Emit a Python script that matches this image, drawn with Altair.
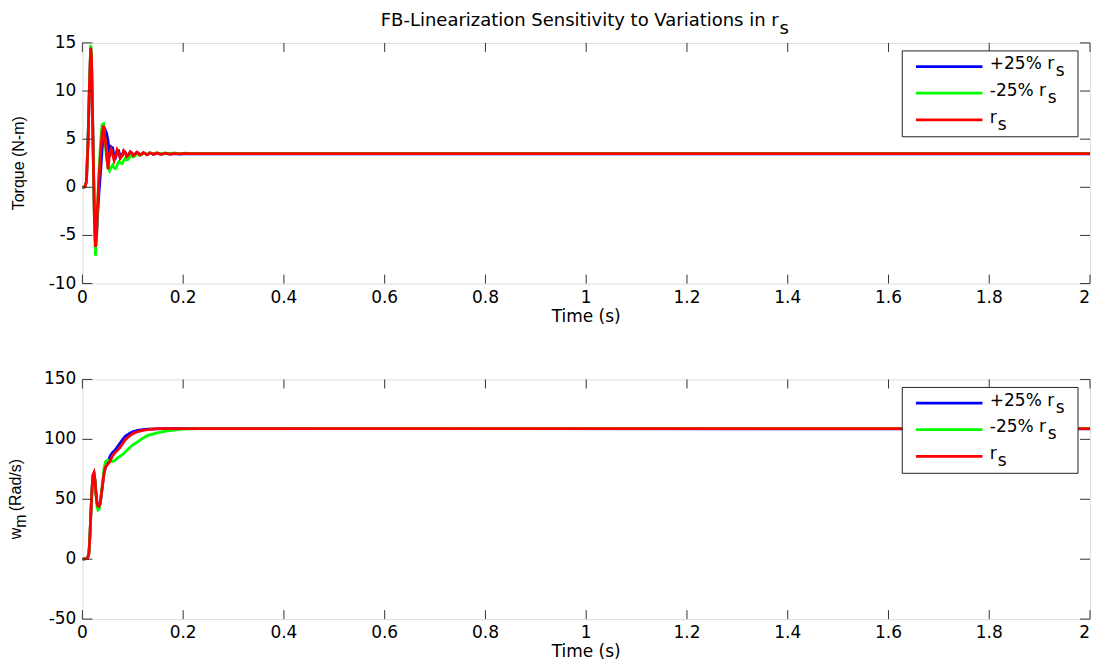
import altair as alt
import pandas as pd

# ---------------- data ----------------
x_ticks = [0, 0.2, 0.4, 0.6, 0.8, 1, 1.2, 1.4, 1.6, 1.8, 2]
x_labels = ["0", "0.2", "0.4", "0.6", "0.8", "1", "1.2", "1.4", "1.6", "1.8", "2"]
torque_ticks = [-10, -5, 0, 5, 10, 15]
torque_labels = ["-10", "-5", "0", "5", "10", "15"]
speed_ticks = [-50, 0, 50, 100, 150]
speed_labels = ["-50", "0", "50", "100", "150"]

t_torque = [0.000, 0.005, 0.008, 0.011, 0.014, 0.0165, 0.018, 0.020, 0.022, 0.024,
            0.026, 0.028, 0.030, 0.033, 0.036, 0.039, 0.042, 0.045, 0.048, 0.051,
            0.054, 0.057, 0.060, 0.063, 0.066, 0.069, 0.072, 0.075, 0.079, 0.082,
            0.085, 0.088, 0.091, 0.095, 0.098, 0.101, 0.104, 0.108, 0.111, 0.114,
            0.118, 0.121, 0.125, 0.128, 0.131, 0.134, 0.138, 0.141, 0.144, 0.147,
            0.151, 0.155, 0.160, 0.165, 0.170, 0.176, 0.182, 0.188, 0.195, 0.202,
            0.210, 0.220, 2.000]
torque_plus = [0.0, 0.05, 0.6, 4.5, 10.5, 14.5, 13.5, 8.0, 2.0, -3.5,
               -6.0, -5.2, -3.0, -0.5, 1.6, 3.8, 5.8, 6.0, 5.6, 4.8,
               3.2, 4.2, 4.1, 3.2, 3.1, 3.8, 3.8, 3.2, 3.3, 3.75,
               3.65, 3.25, 3.35, 3.65, 3.55, 3.35, 3.4, 3.6, 3.55, 3.38,
               3.45, 3.58, 3.5, 3.4, 3.45, 3.56, 3.5, 3.43, 3.47, 3.54,
               3.5, 3.44, 3.47, 3.53, 3.47, 3.45, 3.5, 3.48, 3.46, 3.5,
               3.47, 3.47, 3.47]
torque_minus = [0.0, 0.05, 0.6, 4.6, 10.8, 14.8, 13.8, 8.0, 2.0, -4.0,
                -7.1, -5.5, -2.0, 1.8, 4.5, 6.5, 6.6, 4.8, 3.0, 2.0,
                1.7, 2.1, 2.3, 2.0, 1.95, 2.3, 2.65, 2.55, 2.45, 2.8,
                3.0, 2.85, 2.9, 3.25, 3.3, 3.15, 3.25, 3.45, 3.45, 3.32,
                3.4, 3.55, 3.5, 3.42, 3.47, 3.58, 3.53, 3.46, 3.5, 3.58,
                3.55, 3.48, 3.52, 3.57, 3.51, 3.5, 3.56, 3.53, 3.51, 3.55,
                3.53, 3.53, 3.53]
torque_nom = [0.0, 0.05, 0.6, 4.5, 10.5, 14.5, 13.5, 8.0, 2.0, -3.5,
              -6.2, -5.0, -2.0, 1.0, 3.5, 5.6, 6.4, 5.2, 3.5, 1.9,
              3.6, 4.0, 3.4, 2.8, 3.3, 3.9, 3.6, 3.0, 3.3, 3.8,
              3.6, 3.2, 3.35, 3.7, 3.55, 3.3, 3.4, 3.65, 3.55, 3.35,
              3.45, 3.6, 3.5, 3.38, 3.45, 3.58, 3.52, 3.42, 3.47, 3.56,
              3.52, 3.44, 3.48, 3.55, 3.48, 3.46, 3.53, 3.49, 3.47, 3.52,
              3.49, 3.5, 3.5]

t_speed = [0.000, 0.010, 0.013, 0.015, 0.017, 0.019, 0.021, 0.023, 0.025, 0.027,
           0.029, 0.031, 0.033, 0.035, 0.037, 0.040, 0.043, 0.046, 0.050, 0.055,
           0.060, 0.065, 0.070, 0.075, 0.080, 0.085, 0.090, 0.095, 0.100, 0.110,
           0.120, 0.130, 0.145, 0.160, 0.180, 0.200, 0.230, 2.000]
speed_plus = [0, 0.5, 5, 20, 40, 58, 70, 72, 66, 55,
              47, 44, 44, 46, 52, 62, 72, 77, 80, 86,
              89, 91, 94, 97, 100, 102.5, 104, 105.3, 106.3, 107.5,
              108.2, 108.6, 108.8, 108.9, 109, 109, 109, 108.7]
speed_minus = [0, 0.5, 5, 20, 40, 58, 70, 71.5, 65, 53,
               44, 41, 41.5, 45, 52, 64, 76, 81.5, 82.5, 82,
               81.5, 82.5, 84.5, 86, 87.5, 89.5, 91.5, 93.5, 95.5, 98,
               101, 103.3, 105, 106.5, 107.8, 108.5, 109, 109.2]
speed_nom = [0, 0.5, 5, 20, 40, 58, 70, 72, 66, 55,
             47, 44, 44, 46, 52, 62, 72, 77, 79, 82,
             86.5, 89, 91, 93.5, 96.5, 99.5, 101.5, 103.3, 104.8, 106.5,
             107.5, 108.2, 108.7, 108.9, 109, 109, 109, 109]

series_colors = ["#0000ff", "#00ff00", "#ff0000"]
legend_main = ["+25% r", "-25% r", "r"]

# ---------------- layout / style ----------------
W = 1009
H1 = 241
H2 = 240
FONT = "DejaVu Sans"
VFONT = "Liberation Sans"
TICK_COLOR = "#333333"
LW = 2.8

one = pd.DataFrame({"a": [0]})


def text(txt, x, y, size=17, align="left", angle=0, font=FONT, baseline="alphabetic"):
    return alt.Chart(one).mark_text(
        text=txt, align=align, baseline=baseline, font=font, fontSize=size,
        angle=angle, color="black"
    ).encode(x=alt.value(x), y=alt.value(y))


def panel(t, ys, ydom, yticks, ylabels, H, xlab_dy, xtitle_dy, xtitle_size, anchor_top, anchor_bot):
    xs = alt.X("t:Q", scale=alt.Scale(domain=[0, 2], nice=False, zero=False), axis=None)
    yenc = alt.Y("v:Q", scale=alt.Scale(domain=ydom, nice=False, zero=False), axis=None)
    layers = []
    for vals, col in zip(ys, series_colors):
        df = pd.DataFrame({"t": t, "v": vals})
        layers.append(alt.Chart(df).mark_line(color=col, strokeWidth=LW, clip=True)
                      .encode(x=xs, y=yenc))
    xt = pd.DataFrame({"t": x_ticks, "lab": x_labels})
    yt = pd.DataFrame({"v": yticks, "lab": ylabels})
    layers.append(alt.Chart(xt).mark_rule(color=TICK_COLOR, strokeWidth=1)
                  .encode(x=xs, y=alt.value(H), y2=alt.value(H - 9)))
    layers.append(alt.Chart(xt).mark_rule(color=TICK_COLOR, strokeWidth=1)
                  .encode(x=xs, y=alt.value(0), y2=alt.value(9)))
    layers.append(alt.Chart(yt).mark_rule(color=TICK_COLOR, strokeWidth=1)
                  .encode(y=yenc, x=alt.value(0), x2=alt.value(10)))
    layers.append(alt.Chart(yt).mark_rule(color=TICK_COLOR, strokeWidth=1)
                  .encode(y=yenc, x=alt.value(W - 10), x2=alt.value(W)))
    # tick labels (the last one is kept inside the page's right edge)
    xt_in = xt.iloc[:-1]
    xt_last = xt.iloc[-1:]
    layers.append(alt.Chart(xt_in).mark_text(font=FONT, fontSize=17, align="center",
                                             baseline="alphabetic", color="black")
                  .encode(x=xs, y=alt.value(H + xlab_dy), text="lab:N"))
    layers.append(alt.Chart(xt_last).mark_text(font=FONT, fontSize=17, align="right",
                                               baseline="alphabetic", color="black")
                  .encode(x=xs, y=alt.value(H + xlab_dy), text="lab:N"))
    layers.append(alt.Chart(yt).mark_text(font=FONT, fontSize=17, align="right",
                                          baseline="middle", color="black")
                  .encode(y=yenc, x=alt.value(-6), text="lab:N"))
    # legend box
    layers.append(alt.Chart(one).mark_rect(fill="white", stroke="#222222", strokeWidth=1)
                  .encode(x=alt.value(821), x2=alt.value(997), y=alt.value(8), y2=alt.value(94)))
    rows = [23.7, 50.3, 77.0]
    sub_dx = [66, 58, 8]
    for ry, col, lab, dx in zip(rows, series_colors, legend_main, sub_dx):
        layers.append(alt.Chart(one).mark_rule(color=col, strokeWidth=LW)
                      .encode(x=alt.value(834.7), x2=alt.value(901.3), y=alt.value(ry)))
        layers.append(text(lab, 908.7, ry + 2.8))
        layers.append(text("s", 908.7 + dx, ry + 9.8))
    # x title
    layers.append(text("Time (s)", W / 2, H + xtitle_dy, size=xtitle_size, align="center"))
    # invisible layout anchor (fixes the panel's bounds)
    layers.append(alt.Chart(one).mark_rule(opacity=0, strokeWidth=1)
                  .encode(x=alt.value(-80), y=alt.value(anchor_top), y2=alt.value(anchor_bot)))
    return layers


top_layers = panel(t_torque, [torque_plus, torque_minus, torque_nom], [-10, 15],
                   torque_ticks, torque_labels, H1, 19, 38, 17, -40, H1 + 45)
top_layers.append(text("FB-Linearization Sensitivity to Variations in r", 498, -17,
                       size=18, align="center"))
top_layers.append(text("s", 698, -9, size=18))
top_layers.append(text("Torque (N-m)", -58, H1 / 2, size=16, align="center", angle=270,
                       font=VFONT))

bot_layers = panel(t_speed, [speed_plus, speed_minus, speed_nom], [-50, 150],
                   speed_ticks, speed_labels, H2, 19, 38, 17, -12, H2 + 42)
bot_layers.append(text("w", -61, 160, size=16, angle=270, font=VFONT))
bot_layers.append(text("m", -56, 148.5, size=16, angle=270, font=VFONT))
bot_layers.append(text("(Rad/s)", -61, 132, size=16, angle=270, font=VFONT))

top = alt.layer(*top_layers).properties(width=W, height=H1)
bot = alt.layer(*bot_layers).properties(width=W, height=H2)

chart = alt.vconcat(top, bot, spacing=37).properties(
    padding={"left": -6.5, "top": -6.5, "right": 0, "bottom": 0}
).configure_view(stroke="#1a1a1a", strokeWidth=1).configure(background="white")

chart.save("out.html", embed_options={"renderer": "svg", "actions": False})
